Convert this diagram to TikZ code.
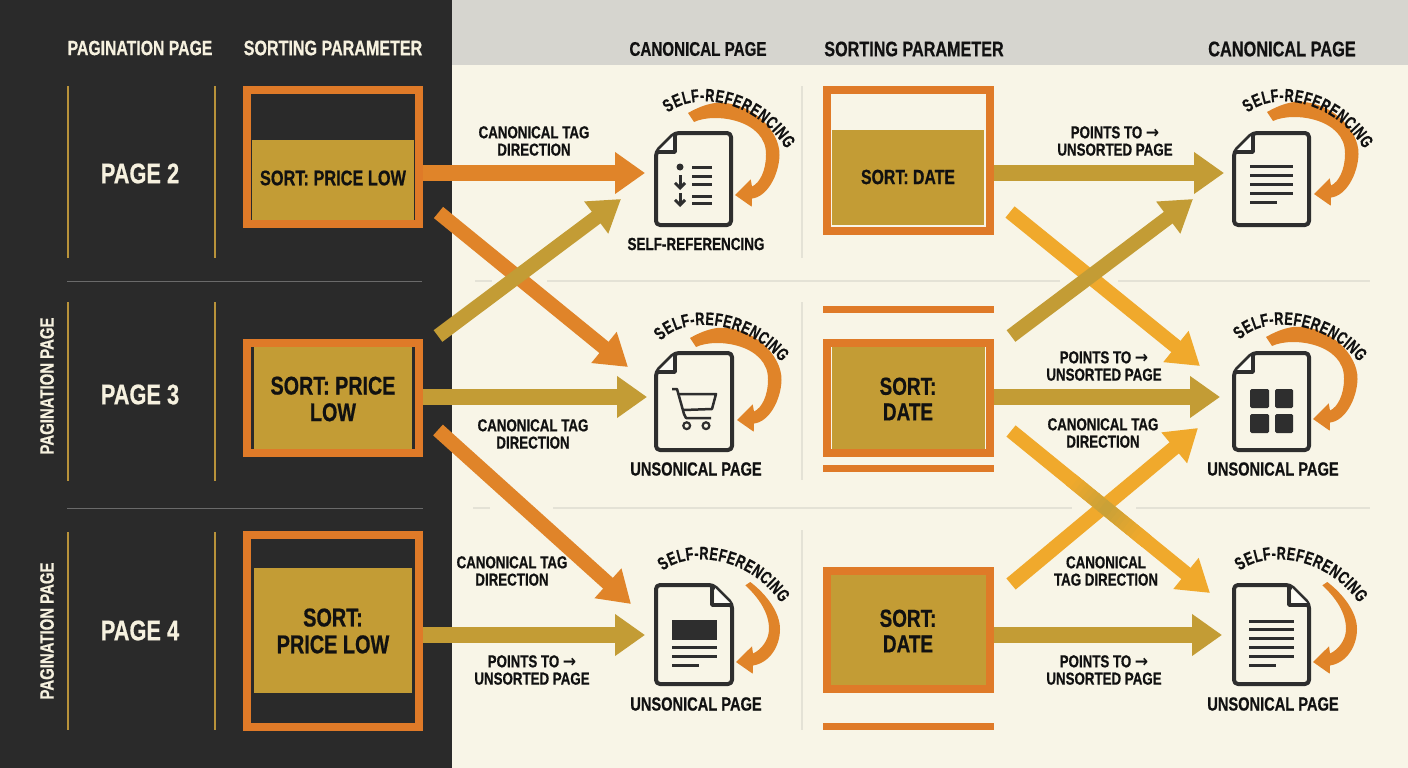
\documentclass[tikz,border=0pt]{standalone}
\usepackage{fontspec}
\usetikzlibrary{arrows.meta,decorations.text,calc}
\newfontfamily\cf[FakeStretch=0.77,BoldFeatures={FakeBold=0.6}]{Liberation Sans}
\newfontfamily\cfarc[FakeStretch=0.70,BoldFeatures={FakeBold=0.6}]{Liberation Sans}
\newfontfamily\af[FakeStretch=0.92]{DejaVu Sans}
\newcommand{\fs}[1]{\cf\bfseries\fontsize{#1}{#1}\selectfont}
\newcommand{\fsarc}{\cfarc\bfseries\fontsize{18}{18}\selectfont}
\newcommand{\rar}{{\af →}}
\definecolor{panel}{HTML}{2A2A2A}
\definecolor{cream}{HTML}{F8F5E7}
\definecolor{band}{HTML}{D6D5CF}
\definecolor{frameor}{HTML}{DF7A28}
\definecolor{goldf}{HTML}{C39C35}
\definecolor{arrowor}{HTML}{E08429}
\definecolor{yel}{HTML}{F0A92C}
\definecolor{ink}{HTML}{111111}
\definecolor{paper}{HTML}{F6F1DF}
\definecolor{iconink}{HTML}{2E2E2E}
\definecolor{rulegrey}{HTML}{E4E2D6}
\definecolor{rulegold}{HTML}{B8923A}
\definecolor{blendg}{HTML}{C8A038}
\tikzset{
  frame/.style={draw=frameor,line width=8pt,inner sep=0pt},
  goldbox/.style={fill=goldf,inner sep=0pt},
  lab/.style={text=ink,align=center,inner sep=0pt},
  head/.style={text=paper,align=center,inner sep=0pt},
  blockar/.style={line width=16pt,-{Triangle[length=30pt,width=40pt]}},
  diagar/.style={line width=14.5pt,-{Triangle[length=31pt,width=38pt]}},
  docnode/.style={inner sep=0pt,draw=none},
  docline/.style={draw=iconink,line width=3pt},
  docout/.style={draw=iconink,line width=4pt,fill=cream,rounded corners=4pt,line join=round},
  selfar/.style={fill=arrowor},
  vsep/.style={draw=rulegold,line width=1.5pt},
  hsepd/.style={draw=white!30!panel,line width=1pt},
  hsepl/.style={draw=rulegrey,line width=1.2pt},
  vsepl/.style={draw=rulegrey,line width=1.2pt}
}
% frame node: name, left, right, top, bottom (outer edges)
\newcommand{\frameat}[5]{%
  \node[frame,minimum width={#3-#2-8pt},minimum height={#5-#4-8pt}] (#1) at ({(#2+#3)/2},{(#4+#5)/2}) {};}
\newcommand{\goldat}[5]{%
  \node[goldbox,minimum width={#4-#2},minimum height={#5-#3}] (#1) at ({(#2+#4)/2},{(#3+#5)/2}) {};}
% document icons
\newcommand{\docL}[5]{%
  \node[docnode,minimum width={#4-#2},minimum height={#5-#3}] (#1) at ({(#2+#4)/2},{(#3+#5)/2}) {};
  \draw[docout] (#2,#3+19) -- (#2+19,#3) -- (#4,#3) -- (#4,#5) -- (#2,#5) -- cycle;
  \fill[white!60!cream] (#2+2,#3+18) -- (#2+18,#3+2) -- (#2+18,#3+18) -- cycle;
  \draw[draw=iconink,line width=3.5pt,line join=round] (#2+19,#3) -- (#2+19,#3+19) -- (#2,#3+19);}
\newcommand{\docR}[5]{%
  \node[docnode,minimum width={#4-#2},minimum height={#5-#3}] (#1) at ({(#2+#4)/2},{(#3+#5)/2}) {};
  \draw[docout] (#2,#3) -- (#4-19,#3) -- (#4,#3+19) -- (#4,#5) -- (#2,#5) -- cycle;
  \fill[white!60!cream] (#4-17,#3+3) -- (#4-2,#3+18) -- (#4-17,#3+18) -- cycle;
  \draw[draw=iconink,line width=3.5pt,line join=round] (#4-20,#3) -- (#4-20,#3+20) -- (#4,#3+20);}
% self arrows, by tip
\newcommand{\selflong}[2]{%
  \fill[selfar,shift={(#1,#2)}] (0,0) -- (16.7,11.7) -- (17,3.5)
    .. controls (32,2) and (44,-20) .. (44.5,-40)
    .. controls (45,-65) and (15,-95) .. (-20,-92)
    .. controls (-30,-90.5) and (-38,-87) .. (-47,-82)
    -- (-41,-73)
    .. controls (-20,-83) and (32,-75) .. (31,-40)
    .. controls (31,-25) and (25,-12) .. (17,-8.5)
    -- (15.7,-15.7) -- cycle;}
\newcommand{\selfshort}[2]{%
  \fill[selfar,shift={(#1,#2)}] (0,0) -- (16.7,11.7) -- (17,3.5)
    .. controls (33,1) and (44,-15) .. (44,-33)
    .. controls (44,-50) and (30,-68) .. (14.3,-80)
    -- (9.3,-76.7)
    .. controls (22,-65) and (33,-50) .. (33,-33)
    .. controls (33,-22) and (25,-12) .. (17,-8.5)
    -- (16,-15.7) -- cycle;}
% curved text
\newcommand{\arctext}[4]{%
  \path[decorate,decoration={text along path,text align={fit to path},
    text={|\fsarc\color{ink}|SELF-REFERENCING}}] #1 .. controls #2 and #3 .. #4;}
\begin{document}
\begin{tikzpicture}[x=1pt,y=-1pt]
\useasboundingbox (0,0) rectangle (1408,768);
\fill[cream] (0,0) rectangle (1408,768);
\fill[band] (452,0) rectangle (1408,65);
\fill[panel] (0,0) rectangle (452,768);

% rules on panel
\draw[vsep] (68,86) -- (68,258) (215,86) -- (215,258);
\draw[vsep] (68,302) -- (68,481) (215,302) -- (215,481);
\draw[vsep] (68,532) -- (68,730) (215,532) -- (215,730);
\draw[hsepd] (67,281) -- (422,281) (67,508) -- (423,508);
% rules on cream
\draw[hsepl] (475,281) -- (492,281) (547,281) -- (1060,281) (1118,281) -- (1370,281);
\draw[hsepl] (473,508) -- (490,508) (553,508) -- (1072,508) (1136,508) -- (1370,508);
\draw[vsepl] (802,86) -- (802,258) (802,302) -- (802,480) (802,530) -- (802,730);

% headers
\node[head,font=\fs{20.5}] (hpp) at (140,48) {PAGINATION PAGE};
\node[head,font=\fs{20.9}] (hsp) at (333,48) {SORTING PARAMETER};
\node[lab,font=\fs{19.7}] (hc1) at (698,49) {CANONICAL PAGE};
\node[lab,font=\fs{21}] (hsp2) at (914,49) {SORTING PARAMETER};
\node[lab,font=\fs{21.2}] (hc2) at (1282,49) {CANONICAL PAGE};

\node[head,font=\fs{28.3}] (p2) at (140,173.5) {PAGE 2};
\node[head,font=\fs{28.3}] (p3) at (140,394.5) {PAGE 3};
\node[head,font=\fs{28.3}] (p4) at (140,630.5) {PAGE 4};
\node[head,font=\fs{19.4},rotate=90] (r3) at (47,386) {PAGINATION PAGE};
\node[head,font=\fs{19.4},rotate=90] (r4) at (47,631) {PAGINATION PAGE};

% sort boxes
\frameat{s2}{243}{423}{86}{228}
\goldat{s2f}{252}{140}{414}{220}
\frameat{s3}{243}{423}{339}{457}
\goldat{s3f}{254}{347}{412}{449}
\frameat{s4}{243}{423}{531}{731}
\goldat{s4f}{254}{568}{412}{693}
\frameat{d2}{823}{994}{86}{235}
\goldat{d2f}{832}{130}{984}{225}
\frameat{d3}{823}{994}{339}{457}
\goldat{d3f}{832}{347}{985}{449}
\frameat{d4}{823}{994}{567}{693}
\goldat{d4f}{831}{575}{986}{685}
\node[fill=frameor,inner sep=0pt,minimum width=171pt,minimum height=7pt] (d3t) at (908.5,309.5) {};
\node[fill=frameor,inner sep=0pt,minimum width=171pt,minimum height=7pt] (d3b) at (908.5,468.5) {};
\node[fill=frameor,inner sep=0pt,minimum width=171pt,minimum height=7pt] (d4b) at (908.5,726.5) {};

\node[lab,font=\fs{21.2}] (ts2) at (333,178) {SORT: PRICE LOW};
\node[lab,font=\fs{25.6}] (ts3) at (333,399) {SORT: PRICE\\[1pt]LOW};
\node[lab,font=\fs{25.8}] (ts4) at (333,631) {SORT:\\[1pt]PRICE LOW};
\node[lab,font=\fs{20.6}] (td2) at (908,177) {SORT: DATE};
\node[lab,font=\fs{24.6}] (td3) at (908,399) {SORT:\\[1pt]DATE};
\node[lab,font=\fs{24.6}] (td4) at (908,631) {SORT:\\[1pt]DATE};

% document icons
\docL{c2}{656}{133}{731}{225}
\docL{c3}{656}{353}{732}{450}
\docR{c4}{656}{585}{732}{684}
\docL{e2}{1234}{133}{1309}{225}
\docL{e3}{1234}{353}{1309}{450}
\docR{e4}{1234}{585}{1309}{684}

% c2 content
\fill[iconink] (680,167) circle (3.5);
\draw[docline,-{Straight Barb[length=5pt,width=10pt]}] (680,175) -- (680,190);
\draw[docline,-{Straight Barb[length=5pt,width=10pt]}] (680,193) -- (680,207);
\draw[docline] (692,167) -- (712,167) (692,176) -- (712,176) (692,184.5) -- (712,184.5) (692,196) -- (712,196) (692,203) -- (712,203);
% c3 cart
\draw[docline,line width=2.5pt,line join=round] (672,389) -- (677,389) -- (684,414) -- (686,418) -- (711,418);
\draw[docline,line width=2.5pt,line join=round] (678,394) -- (716,394) -- (712,409) -- (684,410);
\draw[docline,line width=2.2pt] (686.7,425.7) circle (3.4) (706,425.7) circle (3.4);
% c4 content
\fill[iconink] (672,620) rectangle (717,640);
\draw[docline] (672,647) -- (717,647) (672,656) -- (717,656) (672,665) -- (699,665);
% e2 content
\draw[docline] (1250,166) -- (1293,166) (1250,175) -- (1293,175) (1250,184) -- (1293,184) (1250,193) -- (1293,193) (1250,202) -- (1277,202);
% e3 squares
\fill[iconink,rounded corners=1.5pt] (1250,389) rectangle (1269,408) (1275,389) rectangle (1293,408) (1250,414) rectangle (1269,433) (1275,414) rectangle (1293,433);
% e4 content
\draw[docline] (1249,621) -- (1294,621) (1249,629.7) -- (1294,629.7) (1249,638.4) -- (1294,638.4) (1249,647) -- (1294,647) (1249,656) -- (1294,656) (1249,665) -- (1276,665);

% self arrows
\selflong{735}{195}
\selflong{737}{420}
\selfshort{736}{662}
\selflong{1314}{194}
\selflong{1313}{419}
\selfshort{1313}{662}
\arctext{(668,113)}{(693,92)}{(753,97)}{(786,149)}
\arctext{(661,341)}{(682,316)}{(745,318)}{(781,362)}
\arctext{(663,571)}{(685,552)}{(745,552)}{(781,603)}
\arctext{(1248,113)}{(1271,92)}{(1331,97)}{(1364,149)}
\arctext{(1240,340)}{(1261,316)}{(1323,318)}{(1359,362)}
\arctext{(1240,571)}{(1262,552)}{(1322,552)}{(1359,603)}

% connector ends
\coordinate (i1) at (645,173);
\coordinate (i2) at (647,397);
\coordinate (i3) at (645,635);
\coordinate (j1) at (1224,173);
\coordinate (j2) at (1220,397);
\coordinate (j3) at (1222,635);
\coordinate (a1) at (438.5,212.5);
\coordinate (a2) at (628,367);
\coordinate (b1) at (438,336);
\coordinate (b2) at (621,199);
\coordinate (a3) at (438,430);
\coordinate (a4) at (631,604);
\coordinate (f1) at (1010,212);
\coordinate (f2) at (1200,366);
\coordinate (g1) at (1011,336);
\coordinate (g2) at (1193,199);
\coordinate (f3) at (1011,431);
\coordinate (f4) at (1210,593);
\coordinate (g3) at (1011,584);
\coordinate (g4) at (1198,428);

% connectors
\draw[blockar,draw=arrowor,color=arrowor] (s2.east |- i1) -- (i1);
\draw[diagar,draw=arrowor,color=arrowor] (a1) -- (a2);
\draw[diagar,draw=goldf,color=goldf] (b1) -- (b2);
\draw[blockar,draw=goldf,color=goldf] (s3.east |- i2) -- (i2);
\draw[diagar,draw=arrowor,color=arrowor] (a3) -- (a4);
\draw[blockar,draw=goldf,color=goldf] (s4.east |- i3) -- (i3);
\draw[blockar,draw=goldf,color=goldf] (d2.east |- j1) -- (j1);
\draw[diagar,draw=yel,color=yel] (f1) -- (f2);
\draw[diagar,draw=goldf,color=goldf] (g1) -- (g2);
\draw[blockar,draw=goldf,color=goldf] (d3.east |- j2) -- (j2);
\draw[diagar,draw=yel,color=yel] (g3) -- (g4);
\draw[diagar,draw=yel,color=yel] (f3) -- (f4);
% darker passage of the lower crossing
\foreach \k in {0,...,18}{
  \pgfmathsetmacro{\ta}{0.30+\k*0.02}
  \pgfmathsetmacro{\tb}{\ta+0.022}
  \pgfmathsetmacro{\mx}{max(0,100-abs(\k-8.5)*11.5)}
  \draw[line width=14.5pt,draw=blendg!\mx!yel] ($(f3)!\ta!(f4)$) -- ($(f3)!\tb!(f4)$);
}
\draw[blockar,draw=goldf,color=goldf] (d4.east |- j3) -- (j3);

% labels
\node[lab,font=\fs{17.3}] (l1) at (534,141) {CANONICAL TAG\\DIRECTION};
\node[lab,font=\fs{17.3}] (l2) at (533,434) {CANONICAL TAG\\DIRECTION};
\node[lab,font=\fs{17.3}] (l3) at (512,571) {CANONICAL TAG\\DIRECTION};
\node[lab,font=\fs{17.3}] (l4) at (532,670) {POINTS TO \rar\\UNSORTED PAGE};
\node[lab,font=\fs{17.3}] (l5) at (1115,141) {POINTS TO \rar\\UNSORTED PAGE};
\node[lab,font=\fs{17.3}] (l6) at (1104,366) {POINTS TO \rar\\UNSORTED PAGE};
\node[lab,font=\fs{17.3}] (l7) at (1103,433) {CANONICAL TAG\\DIRECTION};
\node[lab,font=\fs{17.3}] (l8) at (1106,571) {CANONICAL\\TAG DIRECTION};
\node[lab,font=\fs{17.3}] (l9) at (1104,670) {POINTS TO \rar\\UNSORTED PAGE};
\node[lab,font=\fs{17.5}] (n1) at (696,244) {SELF-REFERENCING};
\node[lab,font=\fs{19}] (n2) at (696,469) {UNSONICAL PAGE};
\node[lab,font=\fs{19}] (n3) at (696,704) {UNSONICAL PAGE};
\node[lab,font=\fs{19}] (n4) at (1273,469) {UNSONICAL PAGE};
\node[lab,font=\fs{19}] (n5) at (1273,704) {UNSONICAL PAGE};
\end{tikzpicture}
\end{document}
